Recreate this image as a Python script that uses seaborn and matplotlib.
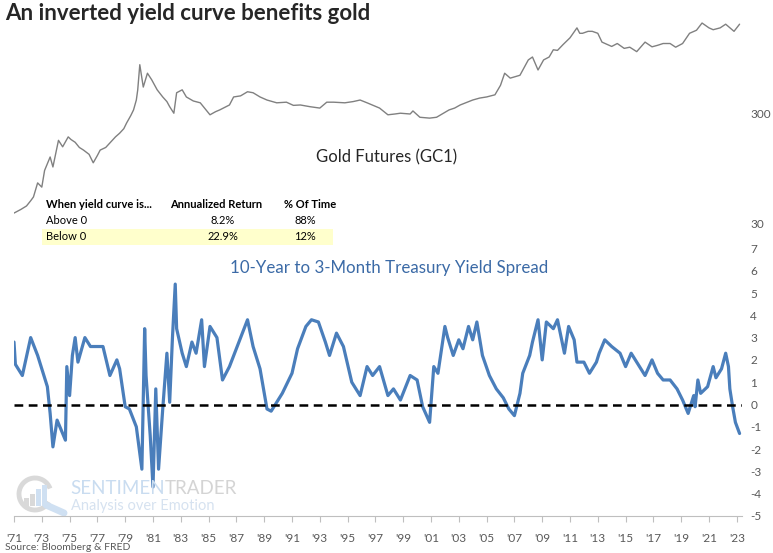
import numpy as np
import pandas as pd
import seaborn as sns
import matplotlib.pyplot as plt
from matplotlib.patches import Rectangle, Arc
from matplotlib.ticker import FixedLocator, NullLocator

# gold futures (GC1)
gold_year = [1971.0, 1971.5, 1971.9, 1972.2, 1972.4, 1972.7, 1973.0, 1973.2, 1973.4, 1973.6,
             1973.8, 1974.0, 1974.2, 1974.5, 1974.9, 1975.1, 1975.4, 1975.7, 1976.0, 1976.4,
             1976.7, 1977.0, 1977.2, 1977.6, 1977.9, 1978.3, 1978.6, 1978.9, 1979.1, 1979.4,
             1979.6, 1979.8, 1979.9, 1980.05, 1980.3, 1980.6, 1980.9, 1981.3, 1981.7, 1982.0,
             1982.2, 1982.5, 1982.7, 1983.1, 1983.4, 1983.9, 1984.4, 1985.1, 1985.5, 1985.8,
             1986.5, 1986.8, 1987.3, 1987.8, 1988.2, 1988.7, 1989.2, 1989.9, 1990.6, 1991.1,
             1991.6, 1992.3, 1993.0, 1993.5, 1994.0, 1994.8, 1995.4, 1995.9, 1996.4, 1997.3,
             1997.9, 1998.4, 1998.8, 1999.5, 1999.7, 2000.2, 2000.9, 2001.4, 2002.3, 2002.7,
             2003.1, 2003.5, 2004.0, 2004.5, 2005.0, 2005.6, 2006.0, 2006.3, 2006.7, 2007.4,
             2008.0, 2008.3, 2008.7, 2009.1, 2009.5, 2009.8, 2010.1, 2010.5, 2011.0, 2011.5,
             2011.7, 2011.9, 2012.3, 2012.6, 2013.0, 2013.3, 2013.7, 2014.0, 2014.4, 2014.9,
             2015.3, 2015.8, 2016.4, 2016.9, 2017.3, 2017.7, 2018.2, 2018.6, 2019.1, 2019.6,
             2020.1, 2020.5, 2021.0, 2021.3, 2021.8, 2022.2, 2022.8, 2023.2]
gold_price = [37, 40, 43, 48, 52, 70, 64, 91, 105, 121,
              98, 130, 172, 150, 185, 175, 165, 148, 140, 128,
              107, 125, 140, 148, 163, 185, 200, 220, 248, 290,
              327, 403, 498, 850, 530, 710, 620, 500, 430, 390,
              350, 305, 470, 500, 430, 395, 380, 295, 315, 327,
              363, 430, 440, 480, 470, 430, 403, 380, 385, 360,
              363, 350, 340, 385, 385, 380, 390, 403, 380, 340,
              295, 300, 305, 300, 320, 280, 275, 280, 327, 340,
              363, 380, 403, 420, 430, 450, 550, 710, 640, 680,
              940, 1000, 760, 940, 1000, 1165, 1150, 1300, 1500, 1850,
              1650, 1650, 1720, 1720, 1650, 1370, 1300, 1250, 1330, 1200,
              1230, 1120, 1370, 1240, 1280, 1330, 1330, 1230, 1330, 1650,
              1760, 2050, 1850, 1780, 1850, 2000, 1720, 2000]

# 10-year minus 3-month treasury spread
spread_year = [1971.0, 1971.1, 1971.6, 1972.2, 1972.7, 1973.4, 1973.6, 1973.8, 1974.1, 1974.5,
               1974.7, 1974.8, 1975.0, 1975.2, 1975.4, 1975.6, 1976.1, 1976.5, 1977.0, 1977.4,
               1977.9, 1978.4, 1978.6, 1979.0, 1979.3, 1979.8, 1980.2, 1980.4, 1980.5, 1980.8,
               1981.0, 1981.2, 1981.4, 1981.7, 1982.0, 1982.2, 1982.4, 1982.6, 1982.7, 1983.1,
               1983.4, 1983.8, 1984.1, 1984.5, 1984.7, 1985.1, 1985.6, 1986.0, 1986.5, 1987.3,
               1987.8, 1988.2, 1988.7, 1989.2, 1989.5, 1989.9, 1990.3, 1991.0, 1991.4, 1992.0,
               1992.4, 1992.9, 1993.4, 1993.7, 1994.2, 1994.7, 1995.3, 1995.9, 1996.4, 1996.8,
               1997.3, 1997.9, 1998.3, 1998.8, 1999.5, 2000.0, 2000.4, 2000.9, 2001.2, 2001.5,
               2002.0, 2002.2, 2002.6, 2003.0, 2003.3, 2003.7, 2004.0, 2004.3, 2004.7, 2005.2,
               2005.7, 2006.2, 2006.6, 2007.0, 2007.4, 2007.6, 2008.1, 2008.3, 2008.7, 2009.0,
               2009.3, 2009.8, 2010.1, 2010.6, 2010.9, 2011.3, 2011.5, 2012.0, 2012.4, 2012.9,
               2013.1, 2013.5, 2014.0, 2014.6, 2015.0, 2015.4, 2015.8, 2016.4, 2016.9, 2017.3,
               2017.7, 2018.2, 2018.7, 2019.1, 2019.5, 2019.9, 2020.0, 2020.2, 2020.4, 2020.9,
               2021.3, 2021.5, 2021.9, 2022.2, 2022.4, 2022.5, 2022.7, 2022.9, 2023.2]
spread_value = [2.8, 1.8, 1.3, 3.0, 2.2, 0.8, -0.4, -1.9, -0.7, -1.3,
                -1.6, 1.7, 0.4, 2.2, 3.0, 1.9, 3.0, 2.6, 2.6, 2.6,
                1.3, 2.0, 1.6, -0.1, -0.2, -1.0, -2.9, 3.4, 1.3, -1.4,
                -3.7, 0.7, -2.9, -0.2, 2.3, 0.1, 3.0, 5.4, 3.4, 2.3,
                1.7, 2.8, 2.3, 3.8, 1.7, 3.5, 3.0, 1.1, 1.7, 3.0,
                3.8, 2.6, 1.6, -0.2, -0.3, 0.1, 0.5, 1.4, 2.5, 3.5,
                3.8, 3.7, 2.8, 2.2, 3.2, 2.6, 1.0, 0.4, 1.7, 1.3,
                1.7, 0.4, 0.7, 0.2, 1.3, 1.1, -0.1, -0.8, 1.7, 1.4,
                3.5, 3.0, 2.2, 2.9, 2.5, 3.5, 2.9, 3.7, 2.2, 1.3,
                0.7, 0.3, -0.2, -0.5, 0.5, 1.4, 2.2, 2.8, 3.8, 2.0,
                3.7, 3.4, 3.8, 2.3, 3.5, 2.9, 1.9, 1.9, 1.4, 1.9,
                2.3, 2.9, 2.6, 2.3, 1.7, 2.3, 1.9, 1.3, 2.0, 1.4,
                1.1, 1.1, 0.7, 0.2, -0.4, 0.4, -0.1, 1.1, 0.5, 0.8,
                1.7, 1.2, 1.6, 2.3, 1.7, 0.7, -0.1, -0.8, -1.3]

tick_years = list(range(1971, 2024, 2))
tick_labels = ["'" + str(y)[2:] for y in tick_years]

table_header = ["When yield curve is...", "Annualized Return", "% Of Time"]
table_rows = [["Above 0", "8.2%", "88%"], ["Below 0", "22.9%", "12%"]]

gold_df = pd.DataFrame({"year": gold_year, "price": gold_price})
spread_df = pd.DataFrame({"year": spread_year, "spread": spread_value})

sns.set_style("white")
plt.rcParams["font.family"] = ["Lato", "DejaVu Sans"]

W, H = 773, 553
fig = plt.figure(figsize=(W / 100, H / 100), dpi=100)


def fx(x):
    return x / W


def fy(y):
    return 1 - y / H


# watermark logo (drawn first, behind everything)
logo = fig.add_axes([fx(10), fy(516), 70 / W, 46 / H])
logo.set_xlim(0, 70)
logo.set_ylim(0, 46)
logo.axis("off")
logo.add_patch(Arc((25, 22), 32, 32, theta1=20, theta2=330, color="#d9d9d9", lw=3.5))
logo.plot([36, 54], [11, 3], color="#cfe0f2", lw=5, solid_capstyle="round")
for bx, bh, bc in [(14, 8, "#d9d9d9"), (20, 12, "#d9d9d9"), (26, 17, "#cfe0f2"), (32, 21, "#cfe0f2")]:
    logo.add_patch(Rectangle((bx, 10), 4.5, bh, color=bc, lw=0))

# axes box in pixels: x 14..742, y 5..516
ax = fig.add_axes([fx(14), fy(516), (742 - 14) / W, (516 - 5) / H])
ax.patch.set_alpha(0)
x0 = 1971.0
x1 = 1971.0 + (742 - 14) / 13.9
ax.set_xlim(x0, x1)
ax.set_ylim(-5, -5 + (516 - 5) / 22.3)

sns.lineplot(data=spread_df, x="year", y="spread", ax=ax, color="#4a7ebb",
             linewidth=2.3, estimator=None, zorder=3)
ax.axhline(0, color="black", linestyle=(0, (3.5, 2.2)), linewidth=1.8, zorder=4)

ax2 = ax.twinx()
sns.lineplot(data=gold_df, x="year", y="price", ax=ax2, color="#808080",
             linewidth=1.0, estimator=None)
ax2.set_yscale("log")
ax2.set_ylim(30 / 10 ** (293 / 109), 30 * 10 ** (218 / 109))
ax2.set_xlim(x0, x1)

for a in (ax, ax2):
    for s in a.spines.values():
        s.set_visible(False)
    a.set_xlabel("")
    a.set_ylabel("")

ax.spines["bottom"].set_visible(True)
ax.spines["bottom"].set_color("#bfbfbf")
ax.set_xticks(tick_years)
ax.set_xticklabels(tick_labels)
ax.tick_params(axis="x", length=4, color="#bfbfbf", labelcolor="#595959",
               labelsize=8.5, pad=8, bottom=True)

ax.yaxis.tick_right()
ax.set_yticks(range(-5, 8))
ax.set_yticklabels([str(v) for v in range(-5, 8)])
ax.tick_params(axis="y", length=0, labelcolor="#595959", labelsize=8.5, pad=6)

ax2.yaxis.set_major_locator(FixedLocator([30, 300]))
ax2.yaxis.set_minor_locator(NullLocator())
ax2.set_yticklabels(["30", "300"])
ax2.tick_params(axis="y", length=0, labelcolor="#595959", labelsize=8.5, pad=6)

# titles and labels
fig.text(fx(5), fy(14), "An inverted yield curve benefits gold", fontsize=16,
         fontweight="bold", color="#262626", va="center", ha="left")
fig.text(fx(387), fy(157), "Gold Futures (GC1)", fontsize=12, color="#262626",
         va="center", ha="center")
fig.text(fx(389), fy(268), "10-Year to 3-Month Treasury Yield Spread", fontsize=12.2,
         color="#3b6aa6", va="center", ha="center")
fig.text(fx(5), fy(547), "Source: Bloomberg & FRED", fontsize=7.5, color="#595959",
         va="center", ha="left")

# summary table
fig.patches.append(Rectangle((fx(42), fy(245)), (333 - 42) / W, 16 / H,
                             transform=fig.transFigure, facecolor="#ffffcc",
                             edgecolor="none", zorder=0))
fig.text(fx(46), fy(205), table_header[0], fontsize=8, fontweight="bold",
         color="black", va="center", ha="left")
fig.text(fx(216), fy(205), table_header[1], fontsize=8, fontweight="bold",
         color="black", va="center", ha="center")
fig.text(fx(310), fy(205), table_header[2], fontsize=8, fontweight="bold",
         color="black", va="center", ha="center")
for i, row in enumerate(table_rows):
    yy = 221 + 16 * i
    fig.text(fx(46), fy(yy), row[0], fontsize=8, color="black", va="center", ha="left")
    fig.text(fx(223), fy(yy), row[1], fontsize=8, color="black", va="center", ha="center")
    fig.text(fx(305), fy(yy), row[2], fontsize=8, color="black", va="center", ha="center")

# watermark text
t1 = fig.text(fx(70), fy(489), "SENTIMEN", fontsize=13.5, color="#c9dcf0",
              va="center", ha="left", zorder=1)
fig.canvas.draw()
bb = t1.get_window_extent()
fig.text(bb.x1 / W, fy(489), "TRADER", fontsize=13.5, color="#d4d4d4",
         va="center", ha="left", zorder=1)
fig.text(fx(71), fy(506), "Analysis over Emotion", fontsize=10.5, color="#d6e2f0",
         va="center", ha="left", zorder=1)

fig.savefig("out.png", dpi=100)
